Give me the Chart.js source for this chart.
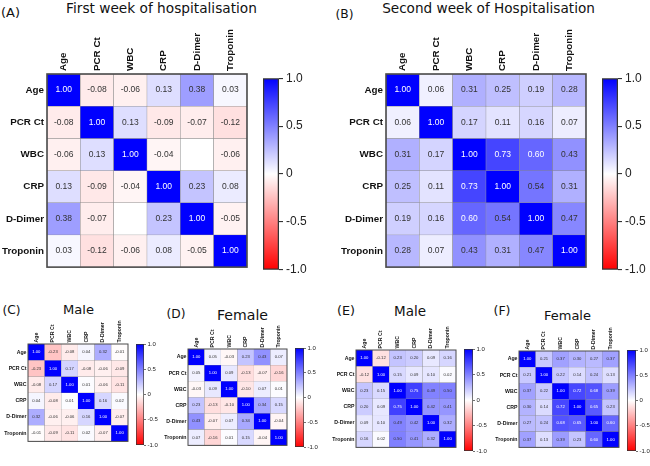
<!DOCTYPE html>
<html>
<head>
<meta charset="utf-8">
<script src="https://cdn.jsdelivr.net/npm/chart.js@4.4.1/dist/chart.umd.min.js"></script>
<style>
  body { margin: 0; background: #fff; }
  #fig { position: relative; width: 650px; height: 466px; overflow: hidden; background: #fff; }
  #fig canvas { position: absolute; }
  .lbl { position: absolute; font-family: "DejaVu Sans", Verdana, sans-serif; font-size: 20px; line-height: 1; color: #111; white-space: nowrap; }
</style>
</head>
<body>
<div id="fig">
  <!-- data-cx / data-cy: centre of the caps, data-w: text width in the reference -->
  <div class="lbl" data-cx="10.5"  data-cy="13.3" data-w="19">(A)</div>
  <div class="lbl" data-cx="161.5" data-cy="8.3"  data-w="191">First week of hospitalisation</div>
  <div class="lbl" data-cx="344.5" data-cy="13.6" data-w="18">(B)</div>
  <div class="lbl" data-cx="488.5" data-cy="8.6"  data-w="213">Second week of Hospitalisation</div>
  <div class="lbl" data-cx="11.5"  data-cy="310"  data-w="18">(C)</div>
  <div class="lbl" data-cx="78.5"  data-cy="309"  data-w="31">Male</div>
  <div class="lbl" data-cx="176"   data-cy="314"  data-w="19">(D)</div>
  <div class="lbl" data-cx="242.5" data-cy="315"  data-w="51">Female</div>
  <div class="lbl" data-cx="346"   data-cy="311"  data-w="18">(E)</div>
  <div class="lbl" data-cx="410"   data-cy="311"  data-w="32">Male</div>
  <div class="lbl" data-cx="502"   data-cy="311"  data-w="17">(F)</div>
  <div class="lbl" data-cx="567.5" data-cy="315"  data-w="47">Female</div>
</div>
<script>
// variables shared by every matrix (rows and columns)
const variables = ['Age', 'PCR Ct', 'WBC', 'CRP', 'D-Dimer', 'Troponin'];
const colorbarTicks = [-1, -0.5, 0, 0.5, 1];

// (A) first week, all patients  (null = blank cell in the figure)
const week1All = [
  [1.00, -0.08, -0.06, 0.13, 0.38, 0.03],
  [-0.08, 1.00, 0.13, -0.09, -0.07, -0.12],
  [-0.06, 0.13, 1.00, -0.04, null, -0.06],
  [0.13, -0.09, -0.04, 1.00, 0.23, 0.08],
  [0.38, -0.07, null, 0.23, 1.00, -0.05],
  [0.03, -0.12, -0.06, 0.08, -0.05, 1.00]
];
// (B) second week, all patients
const week2All = [
  [1.00, 0.06, 0.31, 0.25, 0.19, 0.28],
  [0.06, 1.00, 0.17, 0.11, 0.16, 0.07],
  [0.31, 0.17, 1.00, 0.73, 0.60, 0.43],
  [0.25, 0.11, 0.73, 1.00, 0.54, 0.31],
  [0.19, 0.16, 0.60, 0.54, 1.00, 0.47],
  [0.28, 0.07, 0.43, 0.31, 0.47, 1.00]
];
// (C) first week, male
const week1Male = [
  [1.00, -0.23, -0.08, 0.04, 0.32, -0.01],
  [-0.23, 1.00, 0.17, -0.08, -0.06, -0.09],
  [-0.08, 0.17, 1.00, 0.01, -0.06, -0.11],
  [0.04, -0.08, 0.01, 1.00, 0.16, 0.02],
  [0.32, -0.06, -0.06, 0.16, 1.00, -0.07],
  [-0.01, -0.09, -0.11, 0.02, -0.07, 1.00]
];
// (D) first week, female
const week1Female = [
  [1.00, 0.05, -0.03, 0.23, 0.43, 0.07],
  [0.05, 1.00, 0.09, -0.13, -0.07, -0.16],
  [-0.03, 0.09, 1.00, -0.10, 0.07, 0.01],
  [0.23, -0.13, -0.10, 1.00, 0.34, 0.15],
  [0.43, -0.07, 0.07, 0.34, 1.00, -0.04],
  [0.07, -0.16, 0.01, 0.15, -0.04, 1.00]
];
// (E) second week, male
const week2Male = [
  [1.00, -0.12, 0.23, 0.20, 0.09, 0.16],
  [-0.12, 1.00, 0.15, 0.09, 0.10, 0.02],
  [0.23, 0.15, 1.00, 0.75, 0.49, 0.50],
  [0.20, 0.09, 0.75, 1.00, 0.42, 0.41],
  [0.09, 0.10, 0.49, 0.42, 1.00, 0.32],
  [0.16, 0.02, 0.50, 0.41, 0.32, 1.00]
];
// (F) second week, female
const week2Female = [
  [1.00, 0.21, 0.37, 0.30, 0.27, 0.37],
  [0.21, 1.00, 0.22, 0.14, 0.24, 0.13],
  [0.37, 0.22, 1.00, 0.72, 0.68, 0.39],
  [0.30, 0.14, 0.72, 1.00, 0.65, 0.23],
  [0.27, 0.24, 0.68, 0.65, 1.00, 0.60],
  [0.37, 0.13, 0.39, 0.23, 0.60, 1.00]
];

Chart.defaults.font.family = '"Liberation Sans", Arial, sans-serif';
Chart.defaults.color = '#111';
Chart.defaults.animation = false;

// style presets for the big and small panels
const big   = { labelW: 46, labelH: 46, rowFont: 9.8, cellFont: 8.5, cbFont: 12, cbW: 40, tick: 4, pad: 3, gridW: 0.5, frameW: 1.6 };
const small = { labelW: 27, labelH: 25, rowFont: 5.2, cellFont: 4.2, cbFont: 6, cbW: 22, tick: 2, pad: 1.5, gridW: 0.3, frameW: 1 };

const fig = document.getElementById('fig');

// size titles / panel letters to the reference widths
document.querySelectorAll('.lbl').forEach(el => {
  const w = +el.dataset.w;
  const size = 20 * w / el.getBoundingClientRect().width;
  el.style.fontSize = size + 'px';
  el.style.left = (+el.dataset.cx - el.getBoundingClientRect().width / 2) + 'px';
  el.style.top = (+el.dataset.cy - 0.48 * size) + 'px';
});

function cellColor(v) {
  const t = Math.min(1, Math.abs(v || 0));
  const c = Math.round(255 * (1 - t));
  return (v || 0) >= 0 ? `rgb(${c},${c},255)` : `rgb(255,${c},${c})`;
}

function addCanvas(left, top, w, h) {
  const cv = document.createElement('canvas');
  cv.width = w; cv.height = h;
  cv.style.left = left + 'px'; cv.style.top = top + 'px';
  cv.style.width = w + 'px'; cv.style.height = h + 'px';
  fig.appendChild(cv);
  return cv;
}

function heatmap(matrix, box, st) {
  const edge = 2;
  const cv = addCanvas(box.x - st.labelW, box.y - st.labelH, st.labelW + box.w + edge, st.labelH + box.h + edge);

  const datasets = matrix.map((row, i) => ({
    data: variables.map(() => [i, i + 1]),
    backgroundColor: row.map(cellColor),
    borderColor: '#8a8a8a',
    borderWidth: st.gridW,
    borderSkipped: false,
    grouped: false,
    barPercentage: 1,
    categoryPercentage: 1,
    values: row
  }));

  const cellText = {
    id: 'cellText',
    afterDatasetsDraw(chart) {
      const ctx = chart.ctx;
      ctx.save();
      ctx.font = `${st.cellFont}px "Liberation Sans", Arial, sans-serif`;
      ctx.textAlign = 'center';
      ctx.textBaseline = 'middle';
      chart.data.datasets.forEach((ds, i) => {
        chart.getDatasetMeta(i).data.forEach((bar, j) => {
          const v = ds.values[j];
          if (v === null) return;
          const p = bar.getProps(['x', 'y', 'base'], true);
          ctx.fillStyle = v >= 0.58 ? '#fff' : '#333';
          ctx.fillText(v.toFixed(2), p.x, (p.y + p.base) / 2);
        });
      });
      const a = chart.chartArea;
      ctx.strokeStyle = '#4a4a4a';
      ctx.lineWidth = st.frameW;
      ctx.strokeRect(a.left, a.top, a.right - a.left, a.bottom - a.top);
      ctx.restore();
    }
  };

  new Chart(cv, {
    type: 'bar',
    data: { labels: variables, datasets },
    options: {
      responsive: false,
      layout: { padding: { left: 0, top: 0, right: edge, bottom: edge } },
      plugins: { legend: { display: false }, tooltip: { enabled: false } },
      scales: {
        x: {
          position: 'top',
          grid: { display: false, drawTicks: false },
          border: { display: false },
          // rotated top labels get shifted by one line height; labelOffset puts them back on the column
          ticks: { minRotation: 90, maxRotation: 90, autoSkip: false, padding: st.pad,
                   labelOffset: st.rowFont * 1.2,
                   font: { size: st.rowFont, weight: 'bold' }, color: '#111' },
          afterFit: s => { s.height = st.labelH; s.paddingLeft = 0; s.paddingRight = 0; }
        },
        y: {
          type: 'linear', min: 0, max: variables.length, reverse: true,
          grid: { display: false, drawTicks: false },
          border: { display: false },
          afterBuildTicks: s => { s.ticks = variables.map((_, i) => ({ value: i + 0.5 })); },
          ticks: { padding: st.pad, autoSkip: false, font: { size: st.rowFont, weight: 'bold' }, color: '#111',
                   callback: v => variables[Math.floor(v)] },
          afterFit: s => { s.width = st.labelW; }
        }
      }
    },
    plugins: [cellText]
  });
}

function colorbar(box, st) {
  const padV = 6, padL = 2;
  const cv = addCanvas(box.x - padL, box.y - padV, padL + box.w + st.cbW, box.h + 2 * padV);
  new Chart(cv, {
    type: 'bar',
    data: {
      labels: ['r'],
      datasets: [{
        data: [[-1, 1]],
        backgroundColor: c => {
          const y = c.chart.scales.y;
          if (!y || !c.chart.chartArea) return '#fff';
          const g = c.chart.ctx.createLinearGradient(0, y.getPixelForValue(-1), 0, y.getPixelForValue(1));
          colorbarTicks.forEach(t => g.addColorStop((t + 1) / 2, cellColor(t)));
          return g;
        },
        borderColor: '#333',
        borderWidth: st.frameW,
        borderSkipped: false,
        barPercentage: 1,
        categoryPercentage: 1
      }]
    },
    options: {
      responsive: false,
      layout: { padding: { left: padL, top: padV, bottom: padV, right: 0 } },
      plugins: { legend: { display: false }, tooltip: { enabled: false } },
      scales: {
        x: { display: false },
        y: {
          position: 'right', min: -1, max: 1,
          afterBuildTicks: s => { s.ticks = colorbarTicks.map(v => ({ value: v })); },
          grid: { drawOnChartArea: false, drawTicks: true, tickLength: st.tick, color: '#333', lineWidth: st.frameW * 0.7 },
          border: { display: false },
          ticks: { padding: st.pad, font: { size: st.cbFont }, color: '#222',
                   callback: v => (v === 0 ? '0' : v.toFixed(1)) },
          afterFit: s => { s.width = st.cbW; }
        }
      }
    }
  });
}

heatmap(week1All,    { x: 47,  y: 74,  w: 200, h: 200 }, big);
colorbar(            { x: 263, y: 74,  w: 16,  h: 200 }, big);
heatmap(week2All,    { x: 386, y: 74,  w: 200, h: 200 }, big);
colorbar(            { x: 602, y: 74,  w: 16,  h: 200 }, big);
heatmap(week1Male,   { x: 28,  y: 344, w: 100, h: 100 }, small);
colorbar(            { x: 136, y: 344, w: 8,   h: 101 }, small);
heatmap(week1Female, { x: 188, y: 349, w: 99,  h: 99 },  small);
colorbar(            { x: 295, y: 348, w: 9,   h: 99 },  small);
heatmap(week2Male,   { x: 356, y: 350, w: 100, h: 100 }, small);
colorbar(            { x: 464, y: 349, w: 9,   h: 102 }, small);
heatmap(week2Female, { x: 519, y: 351, w: 100, h: 99 },  small);
colorbar(            { x: 627, y: 350, w: 9,   h: 101 }, small);
</script>
</body>
</html>
